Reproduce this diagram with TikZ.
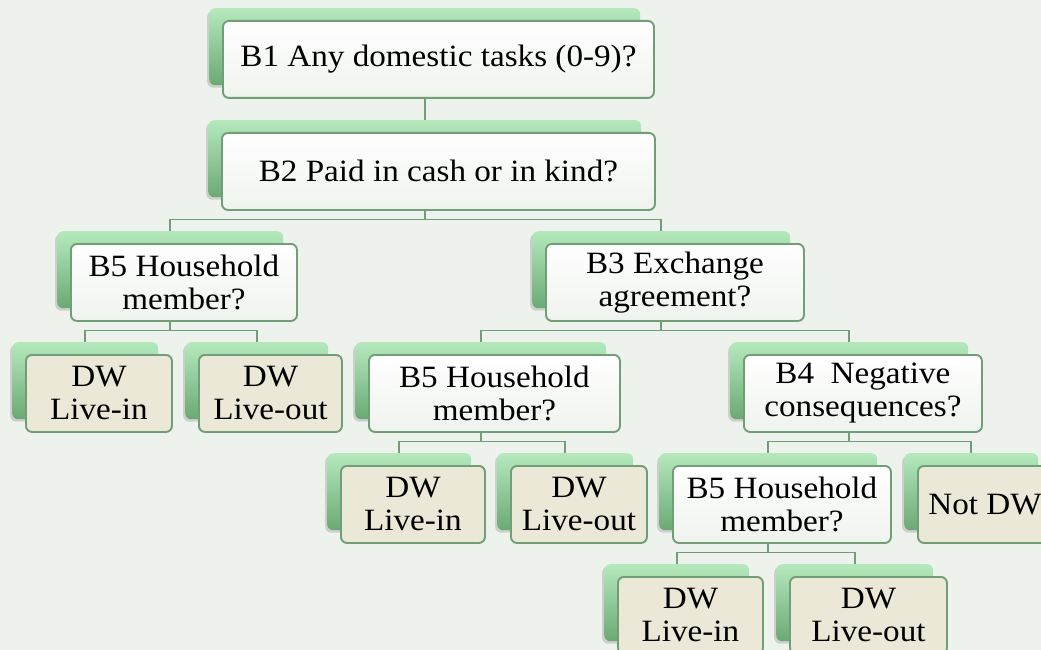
\documentclass[tikz,border=0pt]{standalone}
\usepackage{fontspec}
\setmainfont{Liberation Serif}[FakeStretch=1.07]
\usetikzlibrary{shadows,calc}
\definecolor{bgc}{HTML}{EEF2EC}
\definecolor{edgec}{HTML}{6F9E77}
\definecolor{tabtop}{HTML}{B5E9BD}
\definecolor{tabbot}{HTML}{6BA974}
\definecolor{leafc}{HTML}{EBE8D8}
\definecolor{frontbot}{HTML}{EFF3EE}
\pgfdeclarelayer{bg}\pgfdeclarelayer{links}\pgfsetlayers{bg,links,main}
\tikzset{
 tabbox/.style={rounded corners=6pt, top color=tabtop, bottom color=tabbot, draw=none, inner sep=0pt, anchor=north west,
   drop shadow={shadow xshift=-2pt,shadow yshift=-2.5pt,opacity=0.3}},
 basebox/.style={rounded corners=6pt, draw=edgec, line width=1.9pt, inner sep=0pt, align=center,
   font=\fontsize{31}{33}\selectfont, anchor=north west},
 qbox/.style={basebox, top color=white, bottom color=frontbot},
 leafbox/.style={basebox, fill=leafc},
 link/.style={draw=edgec, line width=1.9pt},
}
\newcommand\gnode[6]{%
 \node[tabbox, minimum width=#4pt, minimum height=77pt] (#1t) at (#2pt,-#3pt) {};
 \node[#5, minimum width=#4pt, minimum height=77pt] (#1) at ([xshift=13pt,yshift=-12pt]#1t.north west) {#6};
}
\begin{document}
\begin{tikzpicture}
\useasboundingbox (0,0) rectangle (1041pt,-650pt);
\begin{pgfonlayer}{bg}
\fill[bgc] (0,0) rectangle (1041pt,-650pt);
\end{pgfonlayer}
\gnode{b1}{209}{8}{431}{qbox}{B1 Any domestic tasks (0-9)?}
\gnode{b2}{208}{120}{433}{qbox}{B2 Paid in cash or in kind?}
\gnode{lbf}{57}{231}{226}{qbox}{B5 Household\\member?}
\gnode{b3}{532}{231}{258}{qbox}{B3 Exchange\\agreement?}
\gnode{lfa}{12}{342}{146}{leafbox}{DW\\Live-in}
\gnode{lfb}{185}{342}{143}{leafbox}{DW\\Live-out}
\gnode{mbf}{355}{342}{251}{qbox}{B5 Household\\member?}
\gnode{b4}{730}{342}{238}{qbox}{B4\ \ Negative\\consequences?}
\gnode{lva}{327}{453}{144}{leafbox}{DW\\Live-in}
\gnode{lvb}{497}{453}{136}{leafbox}{DW\\Live-out}
\gnode{wbf}{659}{453}{218}{qbox}{B5 Household\\member?}
\gnode{notdw}{904}{453}{134}{leafbox}{Not DW}
\gnode{lxa}{604}{564}{145}{leafbox}{DW\\Live-in}
\gnode{lxb}{776}{564}{157}{leafbox}{DW\\Live-out}
\begin{pgfonlayer}{links}
\foreach \p/\c in {b1/b2, b2/lbf, b2/b3, lbf/lfa, lbf/lfb, b3/mbf, b3/b4, mbf/lva, mbf/lvb, b4/wbf, b4/notdw, wbf/lxa, wbf/lxb}
  \draw[link] (\p t.center) |- ([yshift=11.5pt]\c t.north) -- (\c t.north);
\end{pgfonlayer}
\end{tikzpicture}
\end{document}
